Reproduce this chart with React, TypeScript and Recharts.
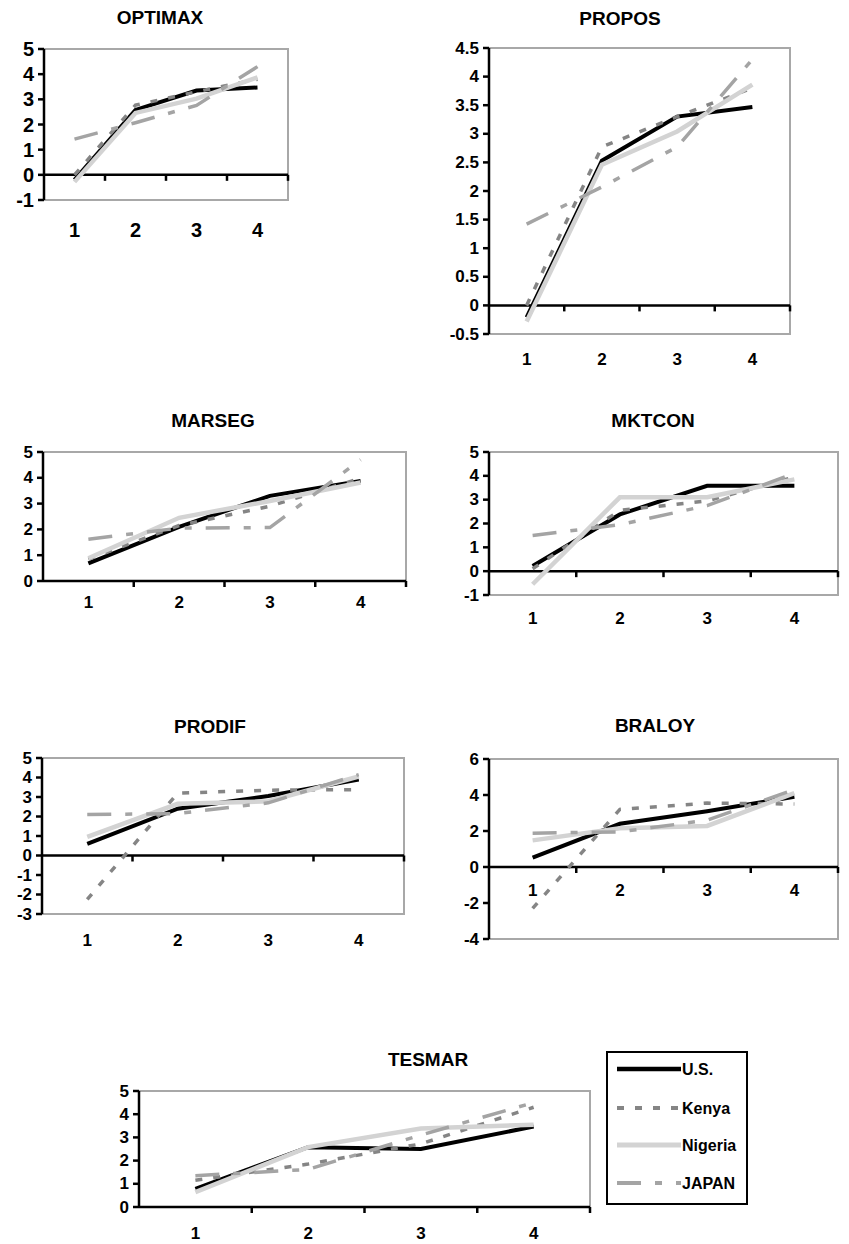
import React from 'react'
import { LineChart, Line, XAxis, YAxis, ReferenceLine, ReferenceArea } from 'recharts'

const categories = [1, 2, 3, 4]

// values per panel, order follows categories
const optimaxUS = [-0.2, 2.58, 3.35, 3.47]
const optimaxKenya = [0.0, 2.77, 3.3, 3.8]
const optimaxNigeria = [-0.28, 2.46, 3.03, 3.87]
const optimaxJapan = [1.42, 2.07, 2.76, 4.3]

const proposUS = [-0.21, 2.53, 3.3, 3.47]
const proposKenya = [0.0, 2.77, 3.3, 3.8]
const proposNigeria = [-0.28, 2.46, 3.04, 3.86]
const proposJapan = [1.42, 2.07, 2.77, 4.3]

const marsegUS = [0.68, 2.1, 3.3, 3.88]
const marsegKenya = [0.85, 2.15, 2.9, 3.98]
const marsegNigeria = [0.88, 2.45, 3.1, 3.82]
const marsegJapan = [1.62, 2.05, 2.07, 4.7]

const mktconUS = [0.22, 2.38, 3.58, 3.58]
const mktconKenya = [0.1, 2.55, 2.95, 3.95]
const mktconNigeria = [-0.55, 3.1, 3.1, 3.85]
const mktconJapan = [1.5, 1.95, 2.75, 4.1]

const prodifUS = [0.6, 2.4, 3.05, 3.9]
const prodifKenya = [-2.25, 3.2, 3.35, 3.38]
const prodifNigeria = [0.95, 2.65, 2.78, 4.05]
const prodifJapan = [2.1, 2.15, 2.7, 4.15]

const braloyUS = [0.52, 2.4, 3.1, 3.9]
const braloyKenya = [-2.3, 3.2, 3.55, 3.5]
const braloyNigeria = [1.48, 2.15, 2.28, 4.1]
const braloyJapan = [1.88, 1.95, 2.6, 4.3]

const tesmarUS = [0.78, 2.58, 2.5, 3.47]
const tesmarKenya = [1.15, 1.85, 2.72, 4.3]
const tesmarNigeria = [0.64, 2.58, 3.38, 3.55]
const tesmarJapan = [1.35, 1.62, 3.1, 4.5]

const yTicks5 = [0, 1, 2, 3, 4, 5]
const yTicksM1 = [-1, 0, 1, 2, 3, 4, 5]
const yTicksPropos = [-0.5, 0, 0.5, 1, 1.5, 2, 2.5, 3, 3.5, 4, 4.5]
const yTicksProdif = [-3, -2, -1, 0, 1, 2, 3, 4, 5]
const yTicksBraloy = [-4, -2, 0, 2, 4, 6]

const FONT = '"Liberation Sans", Arial, Helvetica, sans-serif'

const SERIES = [
  { key: 'us', name: 'U.S.', color: '#000000', width: 4, dash: undefined as string | undefined },
  { key: 'kenya', name: 'Kenya', color: '#858585', width: 3.5, dash: '7 11' },
  { key: 'nigeria', name: 'Nigeria', color: '#d3d3d3', width: 4.5, dash: undefined as string | undefined },
  { key: 'japan', name: 'JAPAN', color: '#a4a4a4', width: 3.5, dash: '24 14 7 14' },
]

interface PanelProps {
  title: string
  titleX: number
  titleY: number
  box: { l: number; t: number; r: number; b: number }
  domain: [number, number]
  yTicks: number[]
  labelY: number
  fontSize: number
  us: number[]
  kenya: number[]
  nigeria: number[]
  japan: number[]
}

function Panel({ title, titleX, titleY, box, domain, yTicks, labelY, fontSize, us, kenya, nigeria, japan }: PanelProps) {
  const mTop = 12
  const mRight = 4
  const yW = 50
  const plotW = box.r - box.l
  const plotH = box.b - box.t
  const xH = Math.max(labelY - box.b + 14, 12)
  const chartW = yW + plotW + mRight
  const chartH = mTop + plotH + xH
  const chartTop = box.t - mTop
  const tickLen = (6 * (domain[1] - domain[0])) / plotH

  const data = categories.map((c, i) => ({
    x: c,
    us: us[i],
    kenya: kenya[i],
    nigeria: nigeria[i],
    japan: japan[i],
  }))

  const renderXTick = (props: any) => (
    <text
      x={props.x}
      y={labelY - chartTop}
      textAnchor="middle"
      dominantBaseline="central"
      fontFamily={FONT}
      fontWeight={700}
      fontSize={fontSize}
      fill="#000"
    >
      {props.payload.value}
    </text>
  )

  const renderYTick = (props: any) => (
    <text
      x={props.x}
      y={props.y}
      textAnchor="end"
      dominantBaseline="central"
      fontFamily={FONT}
      fontWeight={700}
      fontSize={fontSize}
      fill="#000"
    >
      {props.payload.value}
    </text>
  )

  return (
    <>
      <div
        style={{
          position: 'absolute',
          left: titleX,
          top: titleY,
          transform: 'translate(-50%, -50%)',
          fontFamily: FONT,
          fontWeight: 700,
          fontSize: 19,
          whiteSpace: 'nowrap',
        }}
      >
        {title}
      </div>
      <div style={{ position: 'absolute', left: box.l - yW, top: chartTop }}>
        <LineChart width={chartW} height={chartH} data={data} margin={{ top: mTop, right: mRight, left: 0, bottom: 0 }}>
          <ReferenceArea x1={0.5} x2={4.5} y1={domain[0]} y2={domain[1]} fill="none" stroke="#a8a8a8" strokeWidth={2} ifOverflow="visible" />
          <XAxis
            type="number"
            dataKey="x"
            domain={[0.5, 4.5]}
            ticks={categories}
            interval={0}
            axisLine={false}
            tickLine={false}
            height={xH}
            tick={renderXTick}
          />
          <YAxis
            type="number"
            domain={domain}
            ticks={yTicks}
            interval={0}
            allowDataOverflow
            width={yW}
            axisLine={{ stroke: '#000', strokeWidth: 2.5 }}
            tickLine={{ stroke: '#000', strokeWidth: 2.5 }}
            tickSize={6}
            tickMargin={4}
            tick={renderYTick}
          />
          <ReferenceLine y={0} stroke="#000" strokeWidth={2.5} ifOverflow="visible" />
          {[1.5, 2.5, 3.5, 4.5].map((v) => (
            <ReferenceLine
              key={v}
              segment={[{ x: v, y: 0 }, { x: v, y: -tickLen }]}
              stroke="#000"
              strokeWidth={2.5}
              ifOverflow="visible"
            />
          ))}
          {SERIES.map((s) => (
            <Line
              key={s.key}
              type="linear"
              dataKey={s.key}
              stroke={s.color}
              strokeWidth={s.width}
              strokeDasharray={s.dash}
              dot={false}
              activeDot={false}
              isAnimationActive={false}
            />
          ))}
        </LineChart>
      </div>
    </>
  )
}

function LegendBox() {
  const rows = [16, 55, 92, 130]
  return (
    <div
      style={{
        position: 'absolute',
        left: 606,
        top: 1051,
        width: 142,
        height: 154,
        border: '2px solid #000',
        boxSizing: 'border-box',
      }}
    >
      <svg width={138} height={150} style={{ display: 'block' }}>
        {SERIES.map((s, i) => (
          <g key={s.key}>
            <line x1={9} x2={73} y1={rows[i]} y2={rows[i]} stroke={s.color} strokeWidth={s.width + 0.5} strokeDasharray={s.dash} />
            <text x={74} y={rows[i]} dominantBaseline="central" fontFamily={FONT} fontWeight={700} fontSize={16} fill="#000">
              {s.name}
            </text>
          </g>
        ))}
      </svg>
    </div>
  )
}

export default function App() {
  return (
    <div style={{ position: 'absolute', left: 0, top: 0, width: 849, height: 1244, background: '#fff', fontFamily: FONT }}>
      <Panel title="OPTIMAX" titleX={160} titleY={18} box={{ l: 44, t: 49, r: 288, b: 200 }} domain={[-1, 5]} yTicks={yTicksM1} labelY={230} fontSize={20}
        us={optimaxUS} kenya={optimaxKenya} nigeria={optimaxNigeria} japan={optimaxJapan} />
      <Panel title="PROPOS" titleX={620} titleY={19} box={{ l: 489, t: 48, r: 790, b: 334 }} domain={[-0.5, 4.5]} yTicks={yTicksPropos} labelY={359} fontSize={17}
        us={proposUS} kenya={proposKenya} nigeria={proposNigeria} japan={proposJapan} />
      <Panel title="MARSEG" titleX={213} titleY={421} box={{ l: 43, t: 452, r: 406, b: 581 }} domain={[0, 5]} yTicks={yTicks5} labelY={602} fontSize={17}
        us={marsegUS} kenya={marsegKenya} nigeria={marsegNigeria} japan={marsegJapan} />
      <Panel title="MKTCON" titleX={653} titleY={421} box={{ l: 489, t: 452, r: 838, b: 595 }} domain={[-1, 5]} yTicks={yTicksM1} labelY={618} fontSize={17}
        us={mktconUS} kenya={mktconKenya} nigeria={mktconNigeria} japan={mktconJapan} />
      <Panel title="PRODIF" titleX={210} titleY={727} box={{ l: 42, t: 758, r: 404, b: 914 }} domain={[-3, 5]} yTicks={yTicksProdif} labelY={940} fontSize={17}
        us={prodifUS} kenya={prodifKenya} nigeria={prodifNigeria} japan={prodifJapan} />
      <Panel title="BRALOY" titleX={655} titleY={726} box={{ l: 489, t: 759, r: 838, b: 939 }} domain={[-4, 6]} yTicks={yTicksBraloy} labelY={890} fontSize={17}
        us={braloyUS} kenya={braloyKenya} nigeria={braloyNigeria} japan={braloyJapan} />
      <Panel title="TESMAR" titleX={428} titleY={1060} box={{ l: 139, t: 1091, r: 590, b: 1207 }} domain={[0, 5]} yTicks={yTicks5} labelY={1233} fontSize={17}
        us={tesmarUS} kenya={tesmarKenya} nigeria={tesmarNigeria} japan={tesmarJapan} />
      <LegendBox />
    </div>
  )
}
